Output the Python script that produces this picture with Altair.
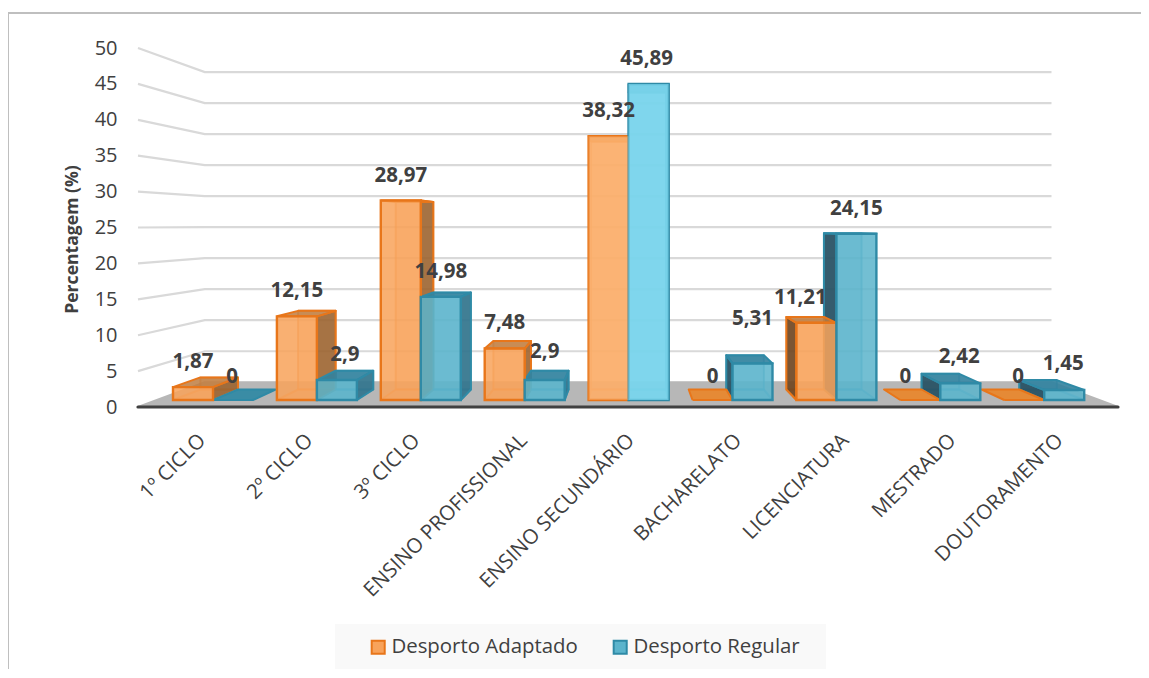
import altair as alt

categories = ["1º CICLO", "2º CICLO", "3º CICLO", "ENSINO PROFISSIONAL", "ENSINO SECUNDÁRIO",
              "BACHARELATO", "LICENCIATURA", "MESTRADO", "DOUTORAMENTO"]
adaptado = [1.87, 12.15, 28.97, 7.48, 38.32, 0, 11.21, 0, 0]
regular = [0, 2.9, 14.98, 2.9, 45.89, 5.31, 24.15, 2.42, 1.45]
series_names = ["Desporto Adaptado", "Desporto Regular"]
y_ticks = list(range(0, 55, 5))

FONT = "Open Sans"
TXT = "#404040"
W, H = 1133, 656
PX_X, PX_Y = 103.9, 7.18          # pixels per category / per axis unit
X_DOM = [-(213 - 8) / PX_X, (8 + W - 213) / PX_X]
Y_DOM = [(407 - (13 + H)) / PX_Y, (407 - 13) / PX_Y]
VX, VY = (629 - 213) / PX_X, (407 - 225) / PX_Y   # vanishing point
S_BOX, S_WALL = 0.06, 0.136
HALF = 40 / PX_X
FLOOR_L, FLOOR_R = (138 - 213) / PX_X, (1118 - 213) / PX_X
BASE = 7 / PX_Y
K = 6.886 / PX_Y
LABEL_STEP, LABEL_SHIFT = 107.2 / PX_X, -6 / PX_X  # labels sit on the wider front edge of the floor


def fy(v):
    return BASE + K * v


def back(x, y, s):
    return x + s * (VX - x), y + s * (VY - y)


polys = []
pid = [0]


def poly(points, fill, stroke):
    pid[0] += 1
    for k, (x, y) in enumerate(points + [points[0]]):
        polys.append({"x": x, "y": y, "pt": k, "poly": f"p{pid[0]:04d}", "fc": fill, "sc": stroke})


FACE = {
    0: dict(back="rgba(250,170,100,0.35)", line="rgba(230,125,40,0.55)", edge="#e8761a",
            rside="rgba(150,95,45,0.85)", lside="rgba(105,65,30,0.88)", top="rgba(190,125,65,0.85)", flat="#e58a36"),
    1: dict(back="rgba(90,175,200,0.35)", line="rgba(50,150,180,0.55)", edge="#2f8aa6",
            rside="rgba(50,115,140,0.9)", lside="rgba(40,80,98,0.92)", top="rgba(50,130,158,0.9)", flat="#3a8ca5"),
}


def box(i, ser, v):
    f = FACE[ser]
    x0 = i - HALF if ser == 0 else i
    x1 = x0 + HALF
    b, t = fy(0), fy(v)
    fbl, fbr, ftl, ftr = (x0, b), (x1, b), (x0, t), (x1, t)
    bbl, bbr = back(*fbl, S_BOX), back(*fbr, S_BOX)
    btl, btr = back(*ftl, S_BOX), back(*ftr, S_BOX)
    if v == 0:
        poly([fbl, fbr, bbr, bbl], f["flat"], f["edge"])
        return
    poly([bbl, bbr, btr, btl], f["back"], f["line"])
    poly([fbl, fbr, bbr, bbl], f["back"], f["line"])
    if i < VX:
        poly([fbr, bbr, btr, ftr], f["rside"], f["edge"])
    else:
        poly([fbl, bbl, btl, ftl], f["lside"], f["edge"])
    poly([ftl, ftr, btr, btl], f["top"], f["edge"])


# floor
poly([(FLOOR_L, 0), back(FLOOR_L, 0, S_WALL), back(FLOOR_R, 0, S_WALL), (FLOOR_R, 0)], "#b7b7b7", "#b7b7b7")
floor_polys = list(polys)
polys.clear()
for i in range(len(categories)):
    order = [0, 1] if i < VX else [1, 0]
    for ser in order:
        box(i, ser, (adaptado if ser == 0 else regular)[i])

grid = []
for g in y_ticks[1:]:
    lx, ly = back(FLOOR_L, g, S_WALL)
    rx, _ = back(FLOOR_R, g, S_WALL)
    for k, (x, y) in enumerate([(FLOOR_L, g), (lx, ly), (rx, ly)]):
        grid.append({"x": x, "y": y, "pt": k, "g": g})

bars, labels = [], []
NUDGE = {(1, 1): (8, 0), (3, 1): (0, -3), (5, 1): (0, -19), (6, 0): (-16, 0),
         (7, 0): (-15, 2), (8, 0): (-6, 2), (5, 0): (0, 2), (0, 1): (-1, 2), (4, 1): (-2, 0), (8, 1): (-1, -1),
         (7, 1): (-1, -1)}
for i in range(len(categories)):
    for ser, vals in enumerate([adaptado, regular]):
        v = vals[i]
        x0 = i - HALF if ser == 0 else i
        bars.append({"x": x0, "x2": x0 + HALF, "y": fy(0), "y2": fy(v), "serie": series_names[ser],
                     "cat": categories[i], "v": v})
        nx, ny = NUDGE.get((i, ser), (0, 0))
        labels.append({"x": x0 + HALF / 2 + nx / PX_X, "y": fy(v) + (25 - ny) / PX_Y,
                       "t": str(v).replace(".", ",")})
bars_drawn = [b for b in bars if b["v"] > 0]
bright = [b for b in bars_drawn if b["cat"] == "ENSINO SECUNDÁRIO"]
for b in bright:
    b["glow"] = "rgba(255,190,130,0.4)" if b["serie"] == series_names[0] else "rgba(140,232,255,0.6)"

xscale = alt.Scale(domain=X_DOM, nice=False, zero=False)
yscale = alt.Scale(domain=Y_DOM, nice=False, zero=False)
label_expr = ("[" + ",".join(f"'{c}'" for c in categories) + "]"
              + f"[round((datum.value-({LABEL_SHIFT}))/{LABEL_STEP})]")
X = alt.X("x:Q", scale=xscale, title=None,
          axis=alt.Axis(values=[LABEL_SHIFT + LABEL_STEP * i for i in range(len(categories))],
                        labelExpr=label_expr, grid=False, domain=False, ticks=False,
                        labelAngle=-45, labelAlign="right", labelBaseline="middle", labelFont=FONT, labelFontSize=20.5,
                        labelColor=TXT, labelOverlap=False, labelFlush=False, offset=-(13 + H - 437), labelPadding=0,
                        labelBound=False, labelLimit=400, labelOffset=-5))
Y = alt.Y("y:Q", scale=yscale, title="Percentagem (%)",
          axis=alt.Axis(values=y_ticks, grid=False, domain=False, ticks=False, labelFont=FONT, labelFontSize=20,
                        labelColor=TXT, offset=-109, labelPadding=0, titleFont=FONT, titleFontSize=17.6,
                        titleFontWeight="bold", titleColor=TXT, titleX=-36, titleY=226, titleAngle=-90))

one = alt.Data(values=[{"a": 1}])
border_top = alt.Chart(one).mark_rule(color="#bfbfbf", strokeWidth=2).encode(
    x=alt.value(0), x2=alt.value(W), y=alt.value(0))
border_left = alt.Chart(one).mark_rule(color="#bfbfbf", strokeWidth=2).encode(
    x=alt.value(0), y=alt.value(0), y2=alt.value(H))
legend_bg = alt.Chart(one).mark_rect(color="#f9f9f9").encode(
    x=alt.value(327), x2=alt.value(818), y=alt.value(611), y2=alt.value(656))


def polygon_layer(rows):
    return alt.Chart(alt.Data(values=rows)).mark_line(strokeWidth=2, strokeJoin="round").encode(
        x=X, y=Y, order=alt.Order("pt:Q"), detail="poly:N",
        fill=alt.Fill("fc:N", scale=None), stroke=alt.Stroke("sc:N", scale=None))


floor = polygon_layer(floor_polys)
grid_l = alt.Chart(alt.Data(values=grid)).mark_line(color="#d9d9d9", strokeWidth=2.2).encode(
    x=X, y=Y, order=alt.Order("pt:Q"), detail="g:N")
axis_line = alt.Chart(alt.Data(values=[{"x": FLOOR_L, "y": 0}, {"x": FLOOR_R, "y": 0}])).mark_line(
    color="#404040", strokeWidth=3.2, strokeCap="round").encode(x=X, y=Y)
boxes = polygon_layer(polys)

legend = alt.Legend(orient="none", legendX=360, legendY=624, direction="horizontal", columns=2,
                    title=None, symbolType="square", symbolSize=170, symbolStrokeWidth=2,
                    symbolOpacity=1, labelFont=FONT, labelFontSize=20.4, labelColor=TXT, labelLimit=300,
                    columnPadding=31, labelOffset=3)
front = alt.Chart(alt.Data(values=bars_drawn)).mark_bar(strokeWidth=2.4, fillOpacity=0.86, strokeOpacity=1).encode(
    x=X, x2="x2:Q", y=Y, y2="y2:Q",
    fill=alt.Fill("serie:N", sort=series_names, title=None,
                  scale=alt.Scale(domain=series_names, range=["#f8a35b", "#5cb4cc"]), legend=legend),
    stroke=alt.Stroke("serie:N", sort=series_names, title=None,
                      scale=alt.Scale(domain=series_names, range=["#e8761a", "#2f8aa6"]), legend=legend))
glow = alt.Chart(alt.Data(values=bright)).mark_bar().encode(
    x=X, x2="x2:Q", y=Y, y2="y2:Q", fill=alt.Fill("glow:N", scale=None))
text = alt.Chart(alt.Data(values=labels)).mark_text(
    font=FONT, fontSize=20.5, fontWeight="bold", color=TXT, align="center", baseline="middle").encode(
    x=X, y=Y, text="t:N")

chart = alt.layer(border_top, border_left, legend_bg, grid_l, floor, axis_line, boxes, front, glow, text).properties(
    width=W, height=H, padding={"left": 0, "top": 5, "right": 0, "bottom": 0},
    autosize=alt.AutoSizeParams(type="none"), background="white",
).resolve_scale(fill="independent", stroke="independent").configure_view(stroke=None)
chart.save("out.html", embed_options={"renderer": "svg", "actions": False})
